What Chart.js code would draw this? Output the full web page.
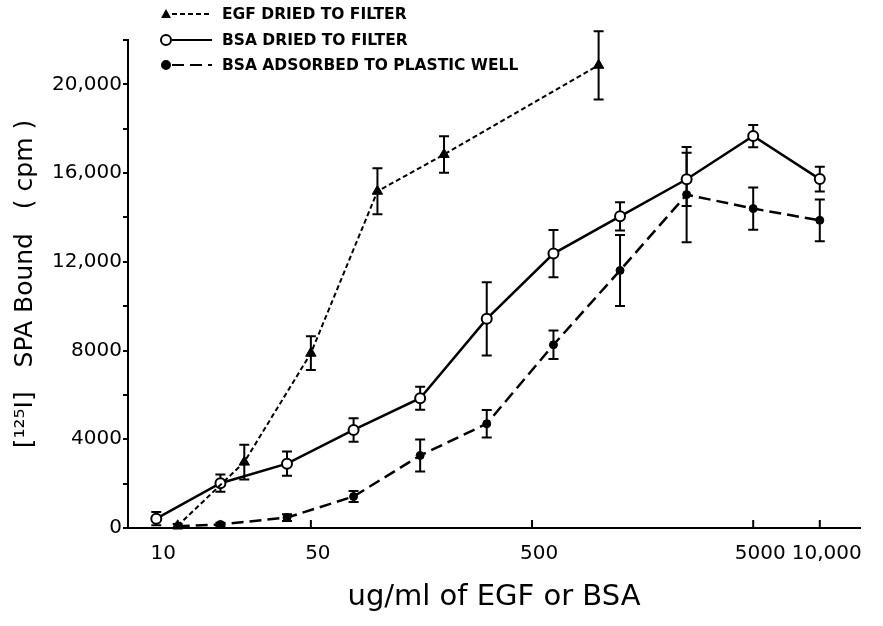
<!DOCTYPE html>
<html>
<head>
<meta charset="utf-8">
<script src="https://cdn.jsdelivr.net/npm/chart.js@4.4.0/dist/chart.umd.min.js"></script>
<style>
  html, body { margin: 0; padding: 0; background: #fff; }
  #wrap { width: 883px; height: 626px; }
</style>
</head>
<body>
<div id="wrap"><canvas id="chart" width="883" height="626"></canvas></div>
<script>
// data (x in ug/ml, y in cpm, err = half error bar)
const egfX = [12.5, 25, 50, 100, 200, 1000];
const egfY = [100, 2970, 7880, 15180, 16840, 20860];
const egfErr = [0, 780, 760, 1040, 820, 1540];

const bsaFilterX = [10, 19.5, 39, 78, 156, 312, 625, 1250, 2500, 5000, 10000];
const bsaFilterY = [420, 2020, 2900, 4420, 5850, 9430, 12370, 14050, 15720, 17670, 15730];
const bsaFilterErr = [300, 390, 550, 530, 520, 1650, 1070, 640, 1200, 500, 560];

const bsaWellX = [12.5, 19.5, 39, 78, 156, 312, 625, 1250, 2500, 5000, 10000];
const bsaWellY = [80, 160, 470, 1420, 3270, 4700, 8260, 11610, 15030, 14400, 13870];
const bsaWellErr = [100, 80, 150, 250, 720, 620, 640, 1600, 2150, 950, 940];

const xTicks = [10, 50, 500, 5000, 10000];
const xTickLabels = ['10', '50', '500', '5000', '10,000'];

const seriesNames = ['EGF DRIED TO FILTER', 'BSA DRIED TO FILTER', 'BSA ADSORBED TO PLASTIC WELL'];

const FONT = '"DejaVu Sans", sans-serif';

function pts(xs, ys) {
  return xs.map((x, i) => ({ x: x, y: ys[i] }));
}
const errs = [egfErr, bsaFilterErr, bsaWellErr];

// vertical error bars, drawn under the markers
const errorBars = {
  id: 'errorBars',
  beforeDatasetsDraw(chart) {
    const ctx = chart.ctx;
    const xs = chart.scales.x, ys = chart.scales.y;
    ctx.save();
    ctx.strokeStyle = '#000';
    ctx.lineWidth = 2;
    ctx.setLineDash([]);
    chart.data.datasets.forEach((ds, i) => {
      ds.data.forEach((p, j) => {
        const e = errs[i][j];
        if (!e) return;
        const px = xs.getPixelForValue(p.x);
        const top = ys.getPixelForValue(p.y + e);
        const bot = ys.getPixelForValue(p.y - e);
        ctx.beginPath();
        ctx.moveTo(px, top); ctx.lineTo(px, bot);
        ctx.moveTo(px - 5, top); ctx.lineTo(px + 5, top);
        ctx.moveTo(px - 5, bot); ctx.lineTo(px + 5, bot);
        ctx.stroke();
      });
    });
    ctx.restore();
  }
};

// inward tick marks on the x axis + legend in the top-left
const extras = {
  id: 'extras',
  afterDraw(chart) {
    const ctx = chart.ctx;
    const xs = chart.scales.x;
    const bottom = chart.chartArea.bottom;
    ctx.save();
    ctx.strokeStyle = '#000';
    ctx.lineWidth = 2;
    xTicks.forEach(v => {
      if (v === 10) return;
      const px = xs.getPixelForValue(v);
      ctx.beginPath();
      ctx.moveTo(px, bottom);
      ctx.lineTo(px, bottom - 8);
      ctx.stroke();
    });

    // legend
    const rowY = [14, 40, 65];
    chart.data.datasets.forEach((ds, i) => {
      const y = rowY[i];
      ctx.lineWidth = 2;
      ctx.strokeStyle = '#000';
      ctx.setLineDash(ds.borderDash || []);
      ctx.beginPath();
      ctx.moveTo(172, y);
      ctx.lineTo(212, y);
      ctx.stroke();
      ctx.setLineDash([]);
      ctx.fillStyle = ds.pointBackgroundColor;
      ctx.beginPath();
      if (ds.pointStyle === 'triangle') {
        ctx.moveTo(166, y - 5); ctx.lineTo(171, y + 4); ctx.lineTo(161, y + 4); ctx.closePath();
        ctx.fillStyle = '#000';
        ctx.fill();
      } else {
        ctx.arc(166, y, ds.pointRadius, 0, Math.PI * 2);
        ctx.fill();
        ctx.stroke();
      }
      ctx.fillStyle = '#000';
      ctx.font = 'bold 15.5px ' + FONT;
      ctx.textBaseline = 'middle';
      ctx.textAlign = 'left';
      ctx.fillText(seriesNames[i], 222, y + 1);
    });
    ctx.restore();
  }
};

new Chart(document.getElementById('chart'), {
  type: 'scatter',
  data: {
    datasets: [
      {
        label: seriesNames[0],
        data: pts(egfX, egfY),
        showLine: true,
        borderColor: '#000',
        borderWidth: 2,
        borderDash: [5, 3],
        pointStyle: 'triangle',
        pointRadius: 6,
        pointBackgroundColor: '#000',
        pointBorderColor: '#000',
        pointBorderWidth: 1
      },
      {
        label: seriesNames[1],
        data: pts(bsaFilterX, bsaFilterY),
        showLine: true,
        borderColor: '#000',
        borderWidth: 2.5,
        pointStyle: 'circle',
        pointRadius: 5,
        pointBackgroundColor: '#fff',
        pointBorderColor: '#000',
        pointBorderWidth: 2
      },
      {
        label: seriesNames[2],
        data: pts(bsaWellX, bsaWellY),
        showLine: true,
        borderColor: '#000',
        borderWidth: 2.5,
        borderDash: [12, 6],
        pointStyle: 'circle',
        pointRadius: 4,
        pointBackgroundColor: '#000',
        pointBorderColor: '#000',
        pointBorderWidth: 1
      }
    ]
  },
  options: {
    responsive: false,
    animation: false,
    layout: { padding: { top: 40, right: 23, left: 0, bottom: 0 } },
    plugins: {
      legend: { display: false },
      tooltip: { enabled: false }
    },
    scales: {
      x: {
        type: 'logarithmic',
        min: 7.45,
        max: 15200,
        afterBuildTicks: s => { s.ticks = xTicks.map(v => ({ value: v })); },
        afterFit: s => { s.height = 98; },
        border: { color: '#000', width: 2 },
        grid: { display: true, drawOnChartArea: false, drawTicks: false, color: '#000' },
        ticks: {
          autoSkip: false,
          maxRotation: 0,
          padding: 14,
          labelOffset: 7,
          color: '#000',
          font: { family: FONT, size: 20 },
          callback: (v, i) => xTickLabels[i]
        },
        title: {
          display: true,
          text: 'ug/ml of EGF or BSA',
          color: '#000',
          font: { family: FONT, size: 29 },
          padding: { top: 0, bottom: 11 }
        }
      },
      y: {
        min: 0,
        max: 22000,
        afterFit: s => { s.width = 128; },
        border: { color: '#000', width: 2 },
        grid: { display: true, drawOnChartArea: false, tickLength: 5, color: '#000', lineWidth: 2 },
        ticks: {
          stepSize: 2000,
          autoSkip: false,
          padding: 1,
          color: '#000',
          font: { family: FONT, size: 20 },
          callback: v => v % 4000 !== 0 ? '' : (v >= 10000 ? v.toLocaleString('en-US') : String(v))
        },
        title: {
          display: true,
          text: '[¹²⁵I]   SPA Bound   ( cpm )',
          color: '#000',
          font: { family: FONT, size: 25 },
          padding: { top: 10, bottom: 0 }
        }
      }
    }
  },
  plugins: [errorBars, extras]
});
</script>
</body>
</html>
